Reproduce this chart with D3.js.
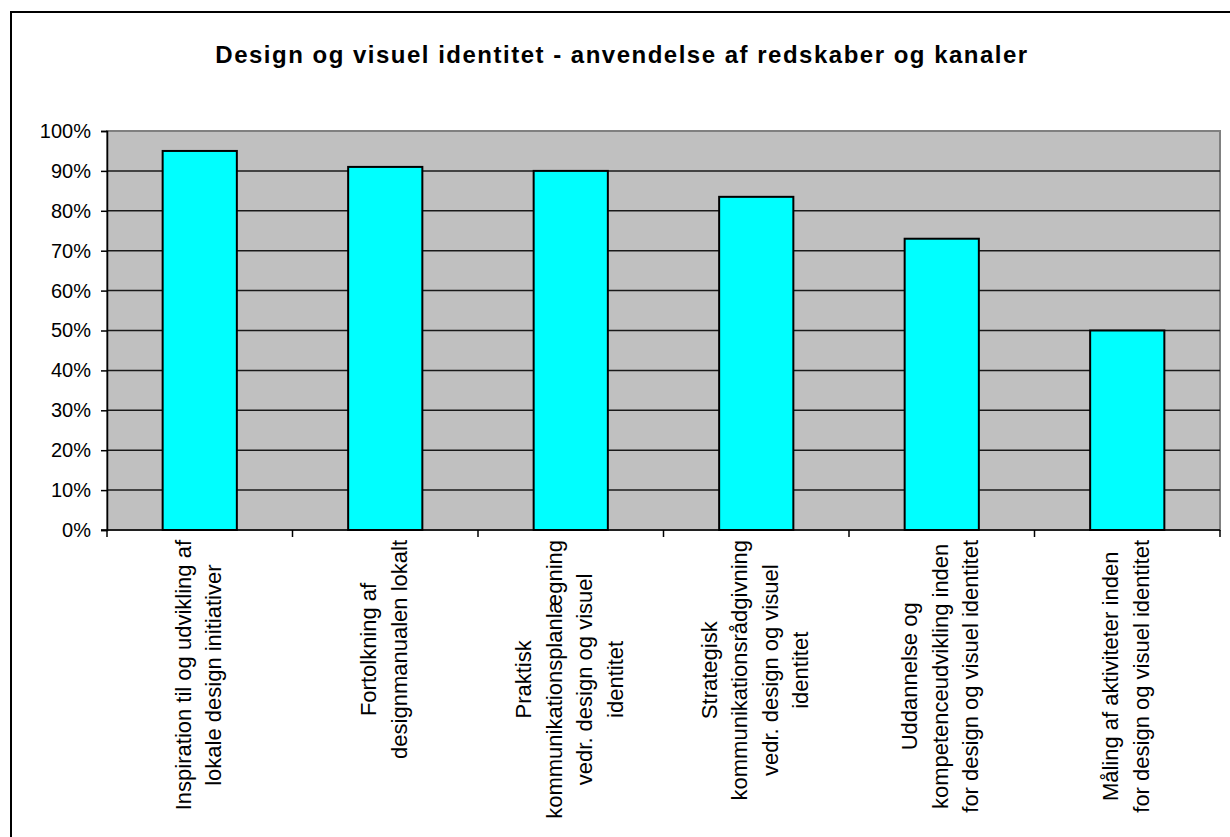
<!DOCTYPE html>
<html>
<head>
<meta charset="utf-8">
<script src="https://cdn.jsdelivr.net/npm/d3@7"></script>
<style>
  body { margin: 0; background: #fff; }
  text { font-family: "Liberation Sans", Arial, sans-serif; }
</style>
</head>
<body>
<div id="chart"></div>
<script>
const title = "Design og visuel identitet - anvendelse af redskaber og kanaler";

const categories = [
    ["Inspiration til og udvikling af", "lokale design initiativer"],
    ["Fortolkning af", "designmanualen lokalt"],
    ["Praktisk", "kommunikationsplanlægning", "vedr. design og visuel", "identitet"],
    ["Strategisk", "kommunikationsrådgivning", "vedr. design og visuel", "identitet"],
    ["Uddannelse og", "kompetenceudvikling inden", "for design og visuel identitet"],
    ["Måling af aktiviteter inden", "for design og visuel identitet"]
];

const values = [0.95, 0.91, 0.90, 0.835, 0.73, 0.50];

const yTicks = [0, 0.1, 0.2, 0.3, 0.4, 0.5, 0.6, 0.7, 0.8, 0.9, 1.0];

document.addEventListener('DOMContentLoaded', function () {
    const width = 1230;
    const height = 837;
    const margin = { top: 131, right: 10, bottom: 307, left: 107 };

    const svg = d3.select("#chart")
        .append("svg")
        .attr("width", width)
        .attr("height", height);

    // outer frame
    svg.append("rect")
        .attr("x", 11).attr("y", 12)
        .attr("width", width + 20).attr("height", height + 20)
        .attr("fill", "#fff")
        .attr("stroke", "#000")
        .attr("stroke-width", 2);

    svg.append("text")
        .attr("x", 622)
        .attr("y", 63)
        .attr("text-anchor", "middle")
        .attr("font-size", 24)
        .attr("font-weight", "bold")
        .attr("letter-spacing", 1.5)
        .text(title);

    const ids = categories.map((c, i) => i);

    const x = d3.scaleBand()
        .domain(ids)
        .range([margin.left, width - margin.right])
        .paddingInner(0.6)
        .paddingOuter(0.3);

    const y = d3.scaleLinear()
        .domain([0, 1])
        .range([height - margin.bottom, margin.top]);

    const step = x.step();
    const x0 = margin.left, x1 = width - margin.right;
    const yBottom = y(0), yTop = y(1);

    // plot background
    svg.append("rect")
        .attr("x", x0).attr("y", yTop)
        .attr("width", x1 - x0).attr("height", yBottom - yTop)
        .attr("fill", "#c0c0c0")
        .attr("stroke", "#808080")
        .attr("stroke-width", 2);

    // gridlines
    svg.append("g")
        .selectAll("line")
        .data(yTicks.filter(d => d > 0 && d < 1))
        .enter().append("line")
        .attr("x1", x0).attr("x2", x1)
        .attr("y1", d => y(d)).attr("y2", d => y(d))
        .attr("stroke", "#1a1a1a")
        .attr("stroke-width", 1.5);

    // bars
    svg.append("g")
        .selectAll("rect")
        .data(values)
        .enter().append("rect")
        .attr("x", (d, i) => x(i))
        .attr("y", d => y(d))
        .attr("width", x.bandwidth())
        .attr("height", d => yBottom - y(d))
        .attr("fill", "#00ffff")
        .attr("stroke", "#000")
        .attr("stroke-width", 2);

    // y axis
    const yAxis = d3.axisLeft(y)
        .tickValues(yTicks)
        .tickFormat(d3.format(".0%"))
        .tickSize(6)
        .tickPadding(10);

    const gy = svg.append("g")
        .attr("transform", `translate(${x0},0)`)
        .call(yAxis);
    gy.select(".domain").attr("stroke", "#000").attr("stroke-width", 1.5);
    gy.selectAll(".tick line").attr("stroke", "#000").attr("stroke-width", 1.5);
    gy.selectAll(".tick text")
        .attr("font-family", "Liberation Sans, Arial, sans-serif")
        .attr("font-size", 20)
        .attr("fill", "#000");

    // x axis line and category ticks
    svg.append("line")
        .attr("x1", x0 - 6).attr("x2", x1)
        .attr("y1", yBottom).attr("y2", yBottom)
        .attr("stroke", "#000")
        .attr("stroke-width", 1.5);

    const boundaries = ids.map(i => x(i) - step * 0.3).concat([x1]);
    svg.append("g")
        .selectAll("line")
        .data(boundaries)
        .enter().append("line")
        .attr("x1", d => d).attr("x2", d => d)
        .attr("y1", yBottom).attr("y2", yBottom + 7)
        .attr("stroke", "#000")
        .attr("stroke-width", 1.5);

    // category labels, rotated
    const lineGap = 30.5;
    const labels = svg.append("g");
    categories.forEach((lines, i) => {
        const cx = x(i) + x.bandwidth() / 2;
        const g = labels.append("g");
        const texts = lines.map((t, j) => g.append("text")
            .attr("font-size", 22)
            .attr("text-anchor", "middle")
            .attr("fill", "#000")
            .text(t));
        const maxW = d3.max(texts, t => t.node().getComputedTextLength());
        const cy = yBottom + 10 + maxW / 2;
        texts.forEach((t, j) => {
            const off = (j - (lines.length - 1) / 2) * lineGap;
            t.attr("transform", `translate(${cx + off + 6},${cy}) rotate(-90)`);
        });
    });
});
</script>
</body>
</html>
